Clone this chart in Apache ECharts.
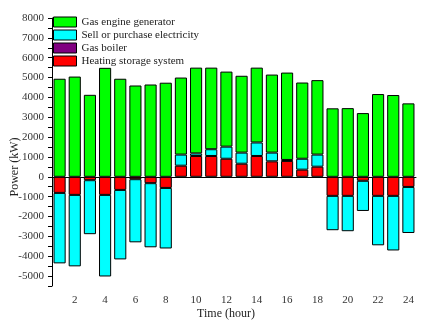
<!DOCTYPE html>
<html>
<head>
<meta charset="utf-8">
<script src="https://cdn.jsdelivr.net/npm/echarts@6/dist/echarts.min.js"></script>
<style>html,body{margin:0;padding:0;background:#fff;}#c{width:425px;height:323px;}</style>
</head>
<body>
<div id="c"></div>
<script>
var hours = ['1','2','3','4','5','6','7','8','9','10','11','12','13','14','15','16','17','18','19','20','21','22','23','24'];
var heatingStorage = [-810,-910,-170,-910,-660,-120,-320,-560,560,1050,1050,910,660,1050,780,800,360,510,-960,-960,-200,-960,-960,-510];
var sellPurchase = [-3550,-3600,-2720,-4110,-3500,-3180,-3230,-3050,560,130,340,610,560,680,440,50,550,610,-1730,-1780,-1520,-2490,-2750,-2320];
var gasBoiler = [0,0,0,0,0,0,0,0,0,0,0,0,0,0,0,0,0,0,0,0,0,0,0,0];
var gasEngine = [4940,5050,4130,5490,4940,4600,4650,4740,3880,4320,4110,3780,3870,3770,3930,4400,3840,3750,3450,3460,3210,4170,4120,3700];
var yTickLabels = ['-5000','-4000','-3000','-2000','-1000','0','1000','2000','3000','4000','5000','6000','7000','8000'];

var font = 'Liberation Serif';
var chart = echarts.init(document.getElementById('c'), null, {renderer:'canvas'});
function mk(name, data, color, bw) {
  return {
    name: name, type: 'bar', stack: 'p', data: data, barWidth: '80%',
    itemStyle: {color: color, borderColor: '#000', borderWidth: bw},
    emphasis: {disabled: true}, animation: false
  };
}
chart.setOption({
  animation: false,
  grid: {left: 52, right: 9, top: 18, bottom: 37, containLabel: false, outerBoundsMode: 'none'},
  legend: {
    orient: 'vertical', left: 53, top: 16, padding: 0, icon: 'rect',
    itemWidth: 23, itemHeight: 10, itemGap: 1,
    data: ['Gas engine generator','Sell or purchase electricity','Gas boiler','Heating storage system'],
    textStyle: {fontFamily: font, fontSize: 11, color: '#222', lineHeight: 12},
    itemStyle: {borderColor: '#000', borderWidth: 1}
  },
  xAxis: {
    type: 'category', data: hours, boundaryGap: true,
    name: 'Time (hour)', nameLocation: 'middle', nameGap: 22, nameMoveOverlap: false,
    nameTextStyle: {fontFamily: font, fontSize: 12, color: '#222', padding: [0,16,0,0]},
    axisLine: {lineStyle: {color: '#000', width: 1}},
    axisTick: {alignWithLabel: true, interval: 0, length: 4, lineStyle: {color: '#000'}},
    axisLabel: {interval: function(i){ return i % 2 === 1; }, fontFamily: font, fontSize: 11, color: '#333', margin: 9},
    splitLine: {show: false}
  },
  yAxis: {
    type: 'value', min: -5500, max: 8000, interval: 500,
    name: 'Power (kW)', nameLocation: 'middle', nameGap: 31, nameMoveOverlap: false,
    nameTextStyle: {fontFamily: font, fontSize: 12, color: '#222', padding: [0,30,0,0]},
    axisLine: {show: true, lineStyle: {color: '#000', width: 1}},
    axisTick: {show: true, length: 4, lineStyle: {color: '#000'}},
    axisLabel: {
      fontFamily: font, fontSize: 11, color: '#333', margin: 8,
      formatter: function(v){ var s = String(v); return yTickLabels.indexOf(s) >= 0 ? s : ''; }
    },
    splitLine: {show: false}
  },
  series: [
    mk('Heating storage system', heatingStorage, '#ff0000', 1),
    mk('Sell or purchase electricity', sellPurchase, '#00ffff', 1),
    mk('Gas boiler', gasBoiler, '#800080', 0),
    mk('Gas engine generator', gasEngine, '#00ff00', 1)
  ]
});
</script>
</body>
</html>
